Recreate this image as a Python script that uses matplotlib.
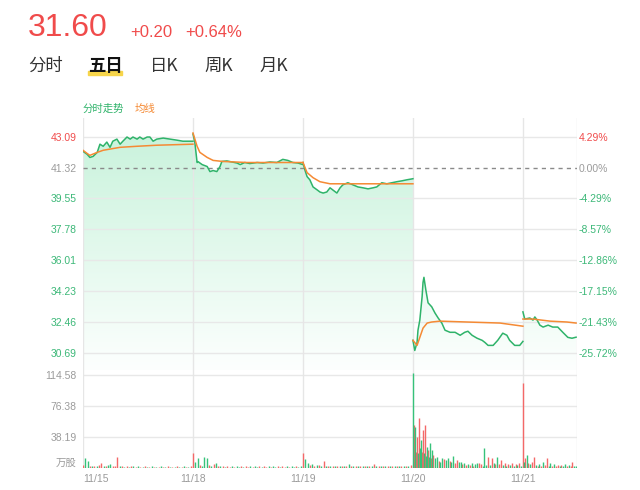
import matplotlib
matplotlib.use("Agg")
import matplotlib.pyplot as plt
import numpy as np
from matplotlib.colors import LinearSegmentedColormap
from matplotlib.patches import Rectangle

plt.rcParams["font.family"] = ["Liberation Sans", "Noto Sans CJK SC"]

# --- data ---
last_price = "31.60"
change = "+0.20"
change_pct = "+0.64%"
tabs = ["分时", "五日", "日K", "周K", "月K"]

base_close = 41.32
price_ticks = [43.09, 41.32, 39.55, 37.78, 36.01, 34.23, 32.46, 30.69]
pct_labels = ["4.29%", "0.00%", "-4.29%", "-8.57%", "-12.86%", "-17.15%", "-21.43%", "-25.72%"]
vol_ticks = [0, 38.19, 76.38, 114.58]
vol_tick_labels = ["万股", "38.19", "76.38", "114.58"]
day_labels = ["11/15", "11/18", "11/19", "11/20", "11/21"]
day_minutes = 240
last_day_minutes = 118

# intraday price, minute offset inside each day
line_t = [
    [0, 9, 15, 22, 31, 37, 44, 52, 59, 65, 74, 81, 87, 96, 103, 109, 118, 124, 131, 140, 146, 153, 161, 175, 190, 205, 218, 233, 240],
    [0, 4, 9, 11, 20, 31, 37, 44, 52, 59, 63, 74, 85, 96, 103, 113, 124, 140, 153, 168, 183, 196, 207, 218, 229, 240],
    [0, 4, 9, 15, 22, 31, 37, 44, 52, 59, 65, 74, 81, 87, 98, 109, 120, 131, 142, 153, 161, 172, 183, 194, 205, 216, 227, 240],
    [0, 4, 9, 11, 15, 20, 22, 24, 28, 33, 41, 48, 55, 63, 70, 81, 92, 103, 113, 120, 129, 140, 151, 157, 164, 175, 185, 196, 205, 211, 222, 233, 240],
    [0, 4, 15, 22, 26, 31, 37, 44, 55, 65, 76, 87, 98, 107, 116],
]
line_p = [
    [42.25, 42.08, 41.90, 41.96, 42.19, 42.66, 42.54, 42.78, 42.48, 42.83, 42.95, 42.66, 42.83, 43.07, 42.95, 43.07, 42.95, 43.07, 42.95, 43.07, 43.07, 42.83, 42.95, 43.01, 42.95, 42.89, 42.83, 42.83, 42.83],
    [43.24, 42.78, 41.61, 41.66, 41.49, 41.38, 41.09, 41.15, 41.09, 41.38, 41.67, 41.70, 41.64, 41.58, 41.49, 41.61, 41.55, 41.61, 41.58, 41.64, 41.61, 41.79, 41.73, 41.61, 41.58, 41.49],
    [41.61, 41.20, 40.80, 40.62, 40.21, 40.04, 39.92, 39.86, 39.92, 40.16, 40.04, 39.86, 40.16, 40.33, 40.45, 40.33, 40.21, 40.16, 40.10, 40.16, 40.21, 40.45, 40.39, 40.45, 40.51, 40.56, 40.62, 40.68],
    [31.42, 30.84, 31.30, 32.00, 32.58, 33.92, 34.74, 35.03, 34.33, 33.57, 33.34, 32.99, 32.70, 32.41, 32.00, 31.88, 31.88, 31.71, 31.88, 31.94, 31.71, 31.54, 31.42, 31.30, 31.13, 31.13, 31.42, 31.83, 31.71, 31.42, 31.13, 31.13, 31.36],
    [33.05, 32.64, 32.70, 32.58, 32.76, 32.58, 32.29, 32.18, 32.29, 32.18, 32.18, 31.88, 31.59, 31.54, 31.60],
]
# average price line
avg_t = [
    [0, 9, 15, 31, 44, 81, 118, 161, 240],
    [0, 9, 15, 31, 44, 65, 118, 190, 240],
    [0, 9, 22, 37, 59, 96, 146, 240],
    [0, 9, 15, 22, 31, 41, 59, 118, 190, 240],
    [0, 22, 59, 96, 116],
]
avg_p = [
    [42.31, 42.13, 42.02, 42.19, 42.31, 42.48, 42.54, 42.60, 42.66],
    [43.30, 42.54, 42.19, 41.90, 41.73, 41.67, 41.61, 41.61, 41.61],
    [41.61, 41.03, 40.74, 40.51, 40.39, 40.39, 40.39, 40.39],
    [31.42, 31.13, 31.59, 32.12, 32.41, 32.47, 32.52, 32.47, 32.41, 32.23],
    [32.64, 32.64, 32.52, 32.47, 32.41],
]

# volume (万股): minute, value, 1 = up (red) / 0 = down (green)
vol_t_quiet = [0, 5, 10, 15, 20, 25, 30, 35, 40, 45, 50, 55, 60, 65, 70, 75, 80, 85, 90, 95,
               100, 105, 110, 115, 120, 125, 130, 135, 140, 145, 150, 155, 160, 165, 170, 175,
               180, 185, 190, 195, 200, 205, 210, 215, 220, 225, 230, 235]
vol_t = [
    vol_t_quiet,
    vol_t_quiet,
    vol_t_quiet,
    [0, 2, 4, 6, 8, 10, 13, 15, 17, 20, 22, 24, 26, 28, 31, 33, 35, 37, 39, 41,
     44, 48, 52, 56, 60, 64, 68, 72, 76, 80, 84, 88, 92, 96, 100, 104, 108, 112, 116, 120,
     124, 128, 132, 136, 140, 144, 148, 152, 156, 160, 164, 168, 172, 176, 180, 184, 188, 192, 196, 200,
     204, 208, 212, 216, 220, 224, 228, 232, 236],
    [0, 2, 4, 8, 12, 16, 20, 24, 28, 32, 36, 40, 44, 48, 52, 56, 60, 64, 68, 72,
     76, 80, 84, 88, 92, 96, 100, 104, 108, 112, 116],
]
vol_v = [
    [4, 12, 9, 3, 2, 3, 2, 4, 6, 3, 2, 4, 5, 2, 3, 13, 2, 3, 1, 2, 1, 3, 2, 1, 2, 1, 1, 2, 1, 1,
     2, 1, 1, 1, 2, 1, 1, 2, 1, 1, 1, 2, 1, 1, 2, 1, 1, 2],
    [18, 8, 12, 4, 3, 13, 12, 4, 3, 5, 6, 2, 3, 2, 1, 2, 1, 2, 1, 2, 1, 2, 1, 2, 1, 2, 1, 2, 1, 2,
     1, 2, 1, 2, 1, 2, 1, 2, 1, 2, 1, 2, 1, 2, 1, 2, 1, 3],
    [18, 11, 6, 4, 5, 3, 4, 4, 3, 9, 3, 2, 3, 2, 3, 2, 2, 3, 2, 3, 5, 2, 3, 2, 3, 2, 3, 2, 2, 3,
     2, 5, 2, 3, 2, 3, 2, 3, 2, 3, 2, 3, 2, 3, 2, 3, 2, 4],
    [117, 53, 50, 20, 38, 18, 62, 25, 35, 20, 47, 18, 53, 15, 26, 22, 14, 31, 12, 22,
     16, 12, 14, 9, 8, 12, 11, 10, 12, 9, 8, 15, 6, 10, 7, 8, 5, 6, 4, 5,
     4, 6, 3, 5, 6, 6, 5, 3, 25, 4, 14, 4, 12, 6, 5, 14, 5, 10, 4, 6,
     3, 5, 4, 6, 3, 5, 4, 6, 3],
    [105, 8, 12, 16, 6, 5, 7, 14, 4, 3, 5, 3, 7, 4, 12, 3, 6, 3, 5, 3,
     4, 2, 4, 3, 5, 3, 4, 3, 7, 2, 3],
]
vol_up = [
    [1, 0, 0, 1, 0, 1, 0, 1, 1, 0, 1, 0, 0, 1, 1, 1, 0, 1, 0, 1, 0, 1, 0, 1, 0, 1, 0, 1, 0, 1,
     0, 1, 0, 1, 0, 1, 0, 1, 0, 1, 0, 1, 0, 1, 0, 1, 0, 1],
    [1, 0, 0, 1, 0, 0, 0, 1, 0, 1, 0, 1, 0, 1, 0, 1, 1, 0, 1, 0, 0, 1, 0, 1, 1, 0, 1, 0, 0, 1,
     0, 1, 1, 0, 1, 0, 0, 1, 0, 1, 1, 0, 1, 0, 0, 1, 0, 0],
    [1, 0, 0, 1, 0, 1, 0, 1, 0, 1, 0, 1, 0, 1, 0, 1, 0, 1, 0, 1, 0, 1, 0, 1, 0, 1, 0, 1, 0, 1,
     0, 1, 0, 1, 0, 1, 0, 1, 0, 1, 0, 1, 0, 1, 0, 1, 0, 1],
    [0, 1, 0, 1, 1, 0, 1, 0, 0, 1, 1, 0, 1, 0, 0, 1, 0, 0, 1, 0,
     1, 0, 0, 1, 0, 0, 1, 0, 0, 1, 0, 0, 1, 1, 0, 0, 1, 0, 1, 0,
     1, 0, 1, 0, 0, 1, 1, 0, 0, 0, 1, 0, 1, 0, 1, 0, 1, 1, 0, 1,
     0, 1, 0, 1, 0, 1, 0, 1, 0],
    [1, 0, 1, 0, 1, 0, 1, 1, 0, 1, 0, 1, 0, 1, 1, 0, 0, 1, 0, 1,
     1, 0, 1, 0, 0, 1, 0, 1, 1, 0, 0],
]

RED = "#f04b4b"
GREEN = "#2fb36a"
ORANGE = "#f58a34"
GRID = "#e8e8e8"
TXT_GREY = "#9b9b9b"

W, H = 640, 490
fig = plt.figure(figsize=(W / 100, H / 100), dpi=100)


def fx(px):
    return px / W


def fy(py):
    return 1 - py / H


L, R, TOP, MID, BOT = 83, 577, 118, 370, 468
ax = fig.add_axes([fx(L), fy(MID), (R - L) / W, (MID - TOP) / H])
axv = fig.add_axes([fx(L), fy(BOT), (R - L) / W, (BOT - MID) / H])

xmax = 4 * day_minutes + last_day_minutes
ylo, yhi = 29.72, 44.16

# --- header ---
fig.text(fx(28), fy(36), last_price, color=RED, fontsize=23, va="baseline")
fig.text(fx(130), fy(37), change, color=RED, fontsize=12, va="baseline")
fig.text(fx(185), fy(37), change_pct, color=RED, fontsize=12, va="baseline")
tab_x = [28, 88, 150, 204, 259]
fig.patches.append(Rectangle((fx(88), fy(75)), 34 / W, 4 / H, transform=fig.transFigure,
                             color="#f7d54a", zorder=0))
for x, t in zip(tab_x, tabs):
    bold = t == "五日"
    fig.text(fx(x), fy(66), t, fontsize=12.5, va="center", family="Noto Sans CJK SC",
             color="#111111" if bold else "#333333", fontweight="bold" if bold else "normal", zorder=2)

fig.text(fx(83), fy(109), "分时走势", fontsize=7.5, color=GREEN, va="center", family="Noto Sans CJK SC")
fig.text(fx(135), fy(109), "均线", fontsize=7.5, color=ORANGE, va="center", family="Noto Sans CJK SC")

# --- price panel ---
xs_all, ps_all = [], []
for d in range(5):
    xs = [d * day_minutes + t for t in line_t[d]]
    xs_all += xs
    ps_all += line_p[d]
    ax.plot(xs, line_p[d], color=GREEN, lw=1.1, zorder=4)
    ax.plot([d * day_minutes + t for t in avg_t[d]], avg_p[d], color=ORANGE, lw=1.1, zorder=5)

# gradient fill under the price line
poly = ax.fill_between(xs_all, ps_all, ylo, color="none", lw=0)
cmap = LinearSegmentedColormap.from_list("fill", ["#fdfffe", "#c6f2da"])
im = ax.imshow(np.linspace(0, 1, 256).reshape(-1, 1), extent=[0, xmax, ylo, yhi], origin="lower",
               aspect="auto", cmap=cmap, zorder=1)
im.set_clip_path(poly.get_paths()[0], transform=ax.transData)

for p in price_ticks:
    if p == base_close:
        ax.axhline(p, color="#8a8a8a", lw=1, ls=(0, (3, 3)), zorder=3)
    else:
        ax.axhline(p, color=GRID, lw=1, zorder=2)

day_lines = [d * day_minutes for d in range(5)] + [xmax]
for ax_ in (ax, axv):
    for x in day_lines:
        ax_.axvline(x, color="#e6e6e6", lw=1, zorder=2)
    ax_.set_xlim(0, xmax)
    for s in ax_.spines.values():
        s.set_visible(False)

ax.set_ylim(ylo, yhi)
ax.set_xticks([])
ax.set_yticks(price_ticks)
ax.set_yticklabels([f"{p:.2f}" for p in price_ticks])
ax.tick_params(axis="y", length=0, pad=4.5, labelsize=7.5)
ax2 = ax.twinx()
ax2.set_ylim(ylo, yhi)
ax2.set_yticks(price_ticks)
ax2.set_yticklabels(pct_labels)
ax2.tick_params(axis="y", length=0, pad=1, labelsize=7.5)
for s in ax2.spines.values():
    s.set_visible(False)


def tick_color(p):
    if p > base_close:
        return RED
    if p == base_close:
        return TXT_GREY
    return "#3cb878"


for lab, p in zip(ax.get_yticklabels(), price_ticks):
    lab.set_color(tick_color(p))
for lab, p in zip(ax2.get_yticklabels(), price_ticks):
    lab.set_color(tick_color(p))

# --- volume panel ---
for d in range(5):
    xs = np.array([d * day_minutes + t for t in vol_t[d]])
    vs = np.array(vol_v[d])
    up = np.array(vol_up[d]) == 1
    axv.vlines(xs[up], 0, vs[up], color="#f46868", lw=1.0, zorder=3)
    axv.vlines(xs[~up], 0, vs[~up], color="#36c27a", lw=1.0, zorder=3)

for v in vol_ticks[1:]:
    axv.axhline(v, color=GRID, lw=1, zorder=1)
axv.set_ylim(0, 120.7)
axv.set_yticks(vol_ticks)
axv.set_yticklabels(vol_tick_labels)
axv.tick_params(axis="y", length=0, pad=4.5, labelsize=7.5, labelcolor=TXT_GREY)
axv.get_yticklabels()[0].set_va("bottom")
axv.set_xticks([d * day_minutes for d in range(5)])
axv.set_xticklabels(day_labels)
axv.tick_params(axis="x", length=0, pad=4, labelsize=7.5, labelcolor=TXT_GREY)
axv.get_xticklabels()[0].set_ha("left")

fig.savefig("out.png", dpi=100, facecolor="white")
